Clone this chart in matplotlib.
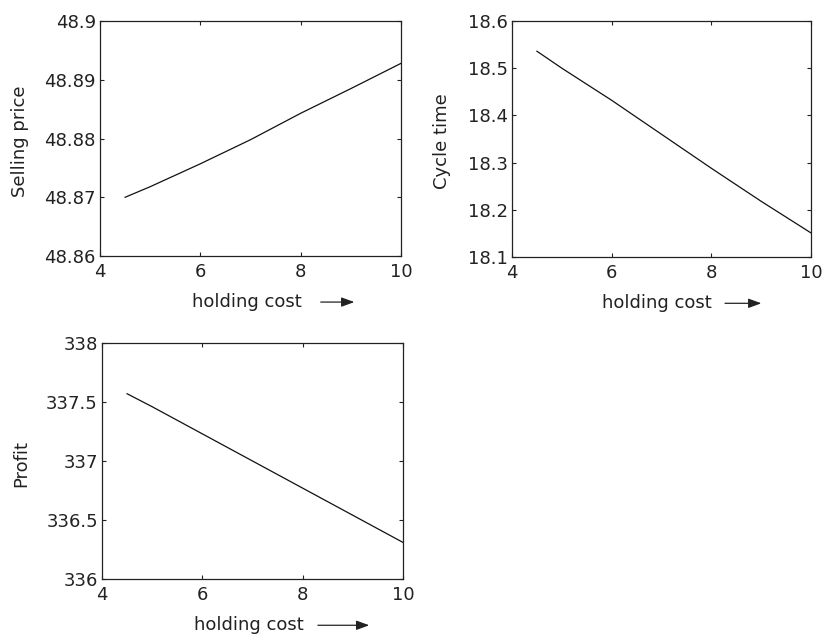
import numpy as np
import matplotlib
matplotlib.use("Agg")
import matplotlib.pyplot as plt

plt.rcParams["font.family"] = "DejaVu Sans"
plt.rcParams["font.size"] = 13

# holding cost sweep and the three responses
holding_cost = [4.5, 5, 6, 7, 8, 9, 10]
selling_price = [48.8700, 48.8718, 48.8757, 48.8798, 48.8843, 48.8885, 48.8928]
cycle_time = [18.536, 18.500, 18.432, 18.360, 18.288, 18.218, 18.151]
profit = [337.57, 337.46, 337.23, 337.00, 336.77, 336.54, 336.31]

x_ticks = [4, 6, 8, 10]
sp_ticks = [48.86, 48.87, 48.88, 48.89, 48.9]
sp_labels = ["48.86", "48.87", "48.88", "48.89", "48.9"]
ct_ticks = [18.1, 18.2, 18.3, 18.4, 18.5, 18.6]
ct_labels = ["18.1", "18.2", "18.3", "18.4", "18.5", "18.6"]
pr_ticks = [336, 336.5, 337, 337.5, 338]
pr_labels = ["336", "336.5", "337", "337.5", "338"]


def panel(fig, rect, y, yticks, ylabels, ylabel, ylab_x, lab_x, arr):
    ax = fig.add_axes(rect)
    ax.plot(holding_cost, y, color="#111111", lw=0.9)
    ax.set_xlim(4, 10)
    ax.set_ylim(yticks[0], yticks[-1])
    ax.set_xticks(x_ticks)
    ax.set_yticks(yticks)
    ax.set_yticklabels(ylabels)
    ax.tick_params(direction="in", length=3, width=0.8, top=True, right=True,
                   colors="#222222")
    ax.tick_params(axis="x", pad=5)
    ax.tick_params(axis="y", pad=3)
    for s in ax.spines.values():
        s.set_linewidth(0.9)
        s.set_color("#222222")
    ax.text(ylab_x, 0.49, ylabel, rotation=90, transform=ax.transAxes,
            ha="center", va="center", color="#222222")
    ax.text(lab_x, -0.196, "holding cost", transform=ax.transAxes,
            ha="left", va="center", color="#222222")
    ax.annotate("", xy=(arr[1], -0.196), xytext=(arr[0], -0.196),
                xycoords="axes fraction", textcoords="axes fraction",
                arrowprops=dict(arrowstyle="-|>,head_length=0.6,head_width=0.22",
                                color="#222222", lw=0.9),
                annotation_clip=False)
    return ax


fig = plt.figure(figsize=(8.24, 6.41), dpi=100)
panel(fig, [0.1214, 0.6006, 0.3653, 0.3666], selling_price, sp_ticks, sp_labels,
      "Selling price", -0.266, 0.306, (0.724, 0.854))
panel(fig, [0.6214, 0.5990, 0.3629, 0.3682], cycle_time, ct_ticks, ct_labels,
      "Cycle time", -0.235, 0.300, (0.703, 0.843))
panel(fig, [0.1238, 0.0967, 0.3653, 0.3682], profit, pr_ticks, pr_labels,
      "Profit", -0.267, 0.306, (0.708, 0.897))

fig.savefig("out.png", dpi=100, facecolor="white")
